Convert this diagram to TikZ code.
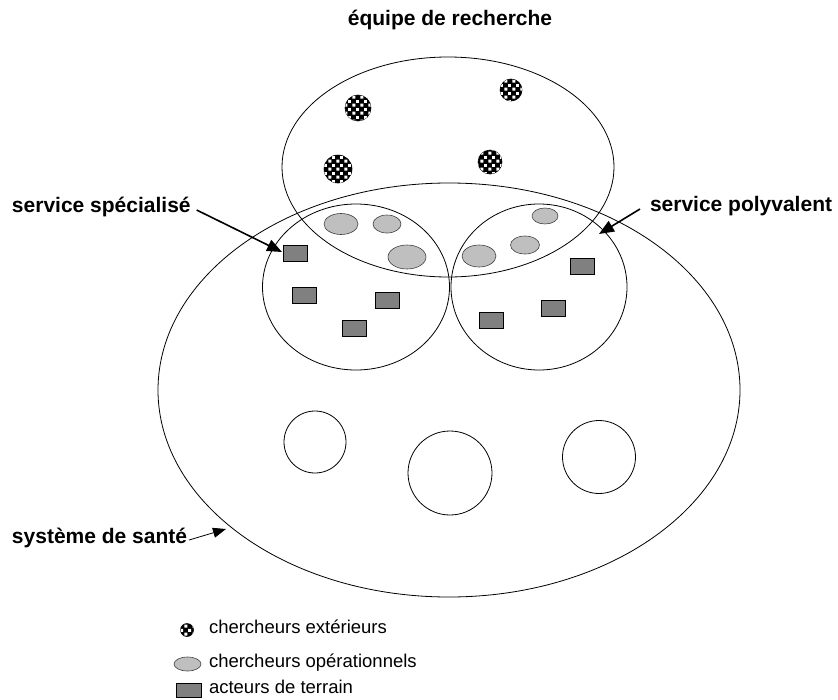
\documentclass[tikz,border=0pt]{standalone}
\usepackage{fontspec}
\setmainfont{Liberation Sans}
\usetikzlibrary{shapes.geometric,arrows.meta,patterns.meta}

\tikzdeclarepattern{name=damier,type=uncolored,bottom left={(0pt,0pt)},top right={(8pt,8pt)},tile size={(8pt,8pt)},code={\fill (0.4pt,0.4pt) rectangle (3.6pt,3.6pt); \fill (4.4pt,4.4pt) rectangle (7.6pt,7.6pt);}}

\begin{document}
\begin{tikzpicture}[x=1pt,y=-1pt]
\tikzset{every node/.style={inner sep=0pt,outer sep=0pt}}
\tikzset{zone/.style={ellipse,draw,line width=0.8pt}}
\tikzset{ext/.style={circle,draw,line width=0.6pt,fill=black,postaction={pattern=damier,pattern color=white}}}
\tikzset{oper/.style={ellipse,draw=black!75,line width=0.6pt,fill=black!25}}
\tikzset{acteur/.style={rectangle,draw,line width=0.8pt,fill=black!50,minimum width=24pt,minimum height=16pt}}
\tikzset{titre/.style={font=\fontsize{21}{25}\selectfont\bfseries}}
\tikzset{legende/.style={font=\fontsize{18.5}{22}\selectfont,anchor=base west}}
\tikzset{fleche/.style={-{Triangle[length=15pt,width=12pt]},line width=1.6pt}}

\useasboundingbox (0,0) rectangle (838,699);

\node[zone,minimum width=582pt,minimum height=414pt] (sante) at (449,390) {};
\node[zone,minimum width=332pt,minimum height=220pt] (equipe) at (448,167) {};
\node[zone,minimum width=187pt,minimum height=166pt] (specialise) at (356,287) {};
\node[zone,minimum width=176pt,minimum height=166pt] (polyvalent) at (539,287) {};
\node[zone,minimum width=62pt,minimum height=62pt] (serviceA) at (315,442) {};
\node[zone,minimum width=84pt,minimum height=84pt] (serviceB) at (450,473) {};
\node[zone,minimum width=73pt,minimum height=73pt] (serviceC) at (599,457) {};

\node[ext,minimum size=26pt] (ext1) at (358,108) {};
\node[ext,minimum size=22pt] (ext2) at (511,90) {};
\node[ext,minimum size=28pt] (ext3) at (338,169) {};
\node[ext,minimum size=24pt] (ext4) at (490,162) {};

\node[oper,minimum width=34pt,minimum height=21pt] (oper1) at (341,224) {};
\node[oper,minimum width=28pt,minimum height=18pt] (oper2) at (387,224) {};
\node[oper,minimum width=38pt,minimum height=24pt] (oper3) at (407,257) {};
\node[oper,minimum width=34pt,minimum height=22pt] (oper4) at (479,256) {};
\node[oper,minimum width=29pt,minimum height=18pt] (oper5) at (525,245) {};
\node[oper,minimum width=26pt,minimum height=16pt] (oper6) at (545,216) {};

\node[acteur] (act1) at (295,253) {};
\node[acteur] (act2) at (304,295) {};
\node[acteur] (act3) at (387,300) {};
\node[acteur] (act4) at (354,328) {};
\node[acteur] (act5) at (582,266) {};
\node[acteur] (act6) at (553,308) {};
\node[acteur] (act7) at (491,320) {};

\node[titre,anchor=base] (lblEquipe) at (450,25) {équipe de recherche};
\node[titre,anchor=base west] (lblSpec) at (12,212) {service spécialisé};
\node[titre,anchor=base west] (lblPoly) at (650,211) {service polyvalent};
\node[titre,anchor=base west] (lblSante) at (12,543) {système de santé};

\coordinate (pSpec) at (282,252);
\coordinate (pPoly) at (599,234);
\coordinate (pSante) at (226,529);
\draw[fleche] ([shift={(6,-2)}]lblSpec.base east) -- (pSpec);
\draw[fleche] ([shift={(-10,-2)}]lblPoly.base west) -- (pPoly);
\draw[fleche,line width=0.8pt,-{Triangle[length=13pt,width=10pt]}] ([shift={(2,-3)}]lblSante.base east) -- (pSante);

\node[ext,minimum size=13pt] (legExt) at (187,630) {};
\node[legende] (txtExt) at (209,633) {chercheurs extérieurs};
\node[oper,minimum width=27pt,minimum height=14pt] (legOper) at (187.5,664) {};
\node[legende] (txtOper) at (209,667) {chercheurs opérationnels};
\node[acteur,minimum width=25pt,minimum height=14pt] (legActeur) at (188.5,690) {};
\node[legende] (txtActeur) at (209,693) {acteurs de terrain};

\end{tikzpicture}
\end{document}
